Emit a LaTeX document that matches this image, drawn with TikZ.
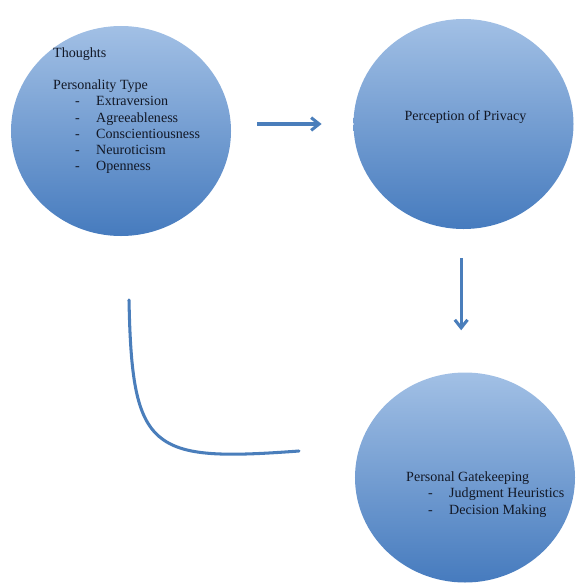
\documentclass[tikz,border=0pt]{standalone}
\usepackage{fontspec}
\setmainfont{Liberation Serif}
\usetikzlibrary{arrows.meta, shapes.geometric, positioning}
\definecolor{ovaltop}{RGB}{162,192,229}
\definecolor{ovalbot}{RGB}{70,123,190}
\definecolor{flow}{RGB}{74,126,187}
\definecolor{ink}{RGB}{18,24,38}
\newcommand{\dashitem}[1]{\makebox[1.29cm][l]{\hspace*{0.66cm}-}#1}

\begin{document}
\begin{tikzpicture}[
    x=0.03cm, y=-0.03cm,
    oval/.style={ellipse, minimum width=6.6cm, minimum height=6.3cm, inner sep=0pt, top color=ovaltop, bottom color=ovalbot},
    textblock/.style={inner sep=0pt, align=left, text=ink, font=\fontsize{12}{13.66}\selectfont},
    flowline/.style={draw=flow, line width=2.6pt},
    >={Straight Barb[length=2.4mm, width=3.8mm]}
  ]
  \useasboundingbox (0,0) rectangle (575,587);

  % the three stages
  \node[oval] (thoughts) at (121, 131) {};
  \node[oval] (privacy) at (463.5, 124) {};
  \node[oval] (gate) at (465, 477.5) {};

  \node[textblock, anchor=north west] (thoughtstext) at (53, 48) {Thoughts\\[0.48cm]Personality Type\\
    \dashitem{Extraversion}\\ \dashitem{Agreeableness}\\ \dashitem{Conscientiousness}\\
    \dashitem{Neuroticism}\\ \dashitem{Openness}};
  \node[textblock] (privacytext) at (465.5, 117) {Perception of Privacy};
  \node[textblock, anchor=north west] (gatetext) at (406, 472) {Personal Gatekeeping\\
    \dashitem{Judgment Heuristics}\\ \dashitem{Decision Making}};

  % arrows between the stages
  \draw[flowline, ->, shorten <=0.78cm, shorten >=0.95cm] (thoughts.east |- privacy.west) -- (privacy.west);
  \draw[flowline, ->, shorten <=0.87cm, shorten >=1.26cm] ([xshift=-0.07cm]privacy.south) -- ([xshift=-0.07cm]privacy.south |- gate.north);

  % loose curve back
  \coordinate (loopstart) at (129, 300);
  \coordinate (loopend) at (299, 451);
  \draw[flowline, line cap=round] (loopstart) .. controls (132, 452) and (150, 462) .. (loopend);

\end{tikzpicture}
\end{document}
